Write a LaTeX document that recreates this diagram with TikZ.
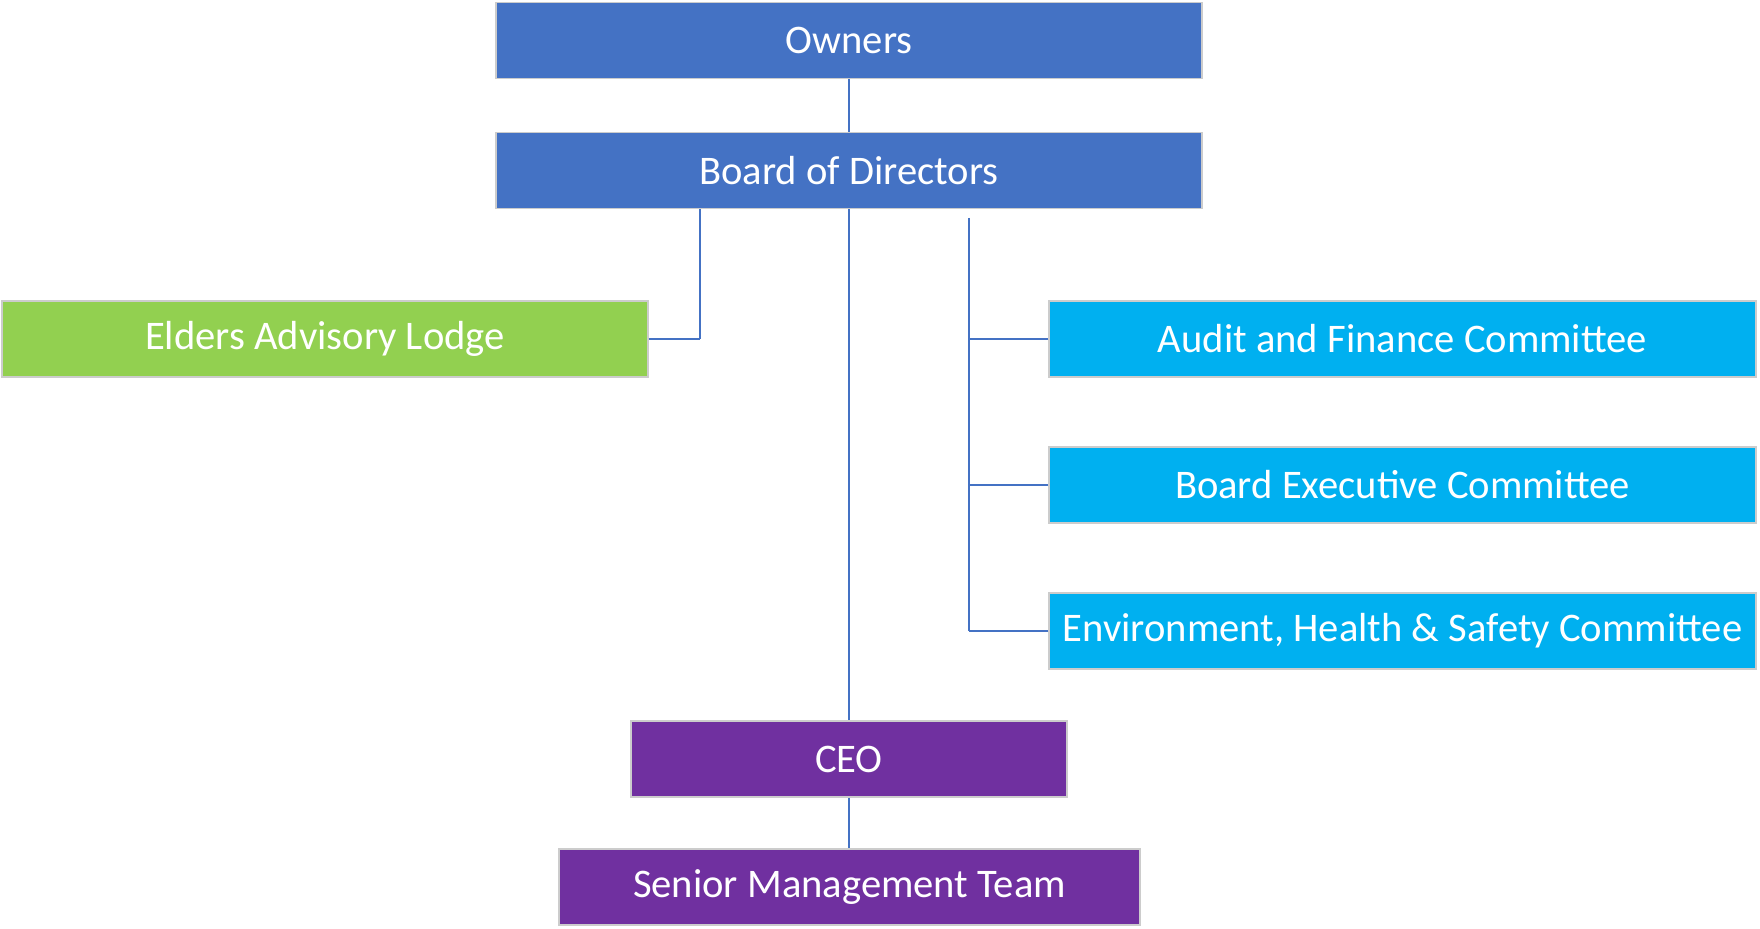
\documentclass[tikz,border=0pt]{standalone}
\usepackage{fontspec}
\setmainfont{Carlito}
\definecolor{cblue}{HTML}{4472C4}
\definecolor{cgreen}{HTML}{92D050}
\definecolor{ccyan}{HTML}{00B0F0}
\definecolor{cpurple}{HTML}{7030A0}
\definecolor{cline}{HTML}{4472C4}
\begin{document}
\begin{tikzpicture}[x=0.5pt,y=-0.5pt,
  box/.style={draw=black!20,line width=0.6pt,text=white,inner sep=0pt,
    minimum height=38pt,font=\fontsize{20.3pt}{24pt}\selectfont},
  conn/.style={draw=cline,line width=1pt},
  hconn/.style={draw=cline,line width=1.4pt}]
\useasboundingbox (0,0) rectangle (1760,929);
\node[box,fill=cblue,minimum width=353pt] (own) at (849,40.4) {Owners};
\node[box,fill=cblue,minimum width=353pt] (bod) at (849,170.5) {Board of Directors};
\node[box,fill=cgreen,minimum width=323pt] (eld) at (325,339) {Elders Advisory Lodge};
\node[box,fill=ccyan,minimum width=353.5pt] (aud) at (1402.5,339) {Audit and Finance Committee};
\node[box,fill=ccyan,minimum width=353.5pt] (bec) at (1402.5,485) {Board Executive Committee};
\node[box,fill=ccyan,minimum width=353.5pt] (ehs) at (1402.5,631) {Environment, Health \& Safety Committee};
\node[box,fill=cpurple,minimum width=218pt] (ceo) at (849,759) {CEO};
\node[box,fill=cpurple,minimum width=290.5pt] (smt) at (849.5,887) {Senior Management Team};
\coordinate (eldtop) at (700.4,209);
\coordinate (bustop) at (968.6,218);
\draw[conn] (own.south) -- (bod.south |- own.south) -- (bod.north);
\draw[conn] (bod.south) -- (ceo.north);
\draw[conn] (ceo.south) -- (ceo.south |- smt.north);
\draw[conn] (eldtop) -- (eldtop |- eld.east);
\draw[hconn] (eld.east) -- (eld.east -| eldtop);
\draw[conn] (bustop) -- (bustop |- ehs.west);
\draw[hconn] (aud.west) -- (aud.west -| bustop);
\draw[hconn] (bec.west) -- (bec.west -| bustop);
\draw[hconn] (ehs.west) -- (ehs.west -| bustop);
\end{tikzpicture}
\end{document}
